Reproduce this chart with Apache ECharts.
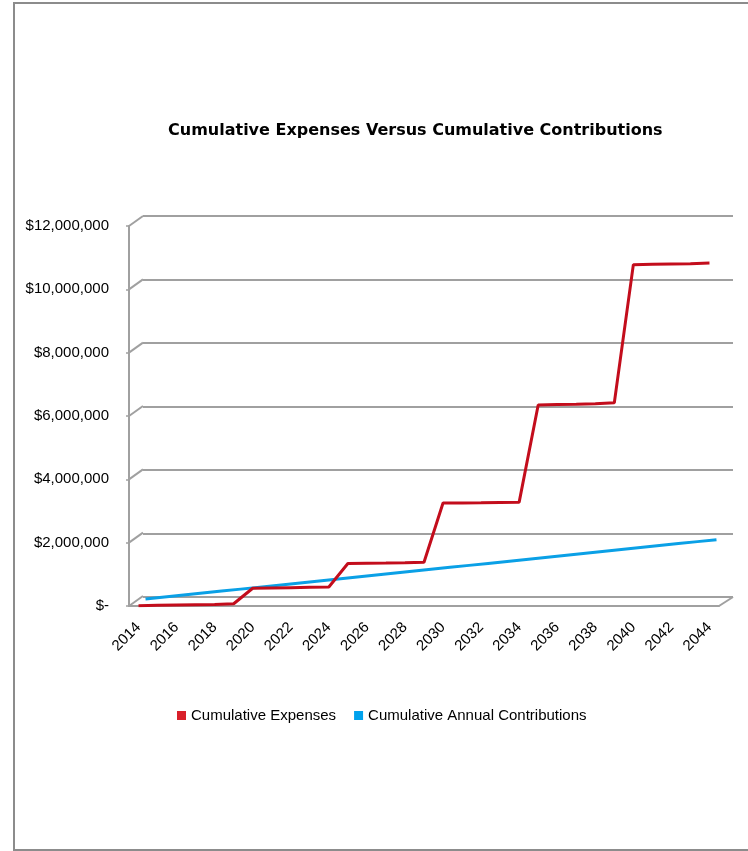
<!DOCTYPE html>
<html>
<head>
<meta charset="utf-8">
<script src="https://cdn.jsdelivr.net/npm/echarts@6/dist/echarts.min.js"></script>
<style>
  html, body { margin: 0; padding: 0; background: #fff; }
  #chartmain { width: 748px; height: 851px; }
</style>
</head>
<body>
<div id="chartmain"></div>
<script>
// data
var years = ['2014','2015','2016','2017','2018','2019','2020','2021','2022','2023','2024',
  '2025','2026','2027','2028','2029','2030','2031','2032','2033','2034',
  '2035','2036','2037','2038','2039','2040','2041','2042','2043','2044'];
var expenses = [10000, 20000, 30000, 40000, 50000, 70000,
  560000, 570000, 580000, 590000, 600000,
  1340000, 1350000, 1355000, 1365000, 1380000,
  3250000, 3255000, 3260000, 3270000, 3280000,
  6350000, 6360000, 6370000, 6390000, 6420000,
  10780000, 10790000, 10800000, 10810000, 10830000];
var contributions = [62500, 125000, 187500, 250000, 312500, 375000, 437500, 500000,
  562500, 625000, 687500, 750000, 812500, 875000, 937500, 1000000,
  1062500, 1125000, 1187500, 1250000, 1312500, 1375000, 1437500, 1500000,
  1562500, 1625000, 1687500, 1750000, 1812500, 1875000, 1937500];
var yTicks = [0, 2000000, 4000000, 6000000, 8000000, 10000000, 12000000];

// layout: front plane, back wall and the middle row of the 3d look
var front = {left: 129, top: 226, width: 590, height: 380};
var back = {dx: 14, dy: -10};
var mid = {dx: 7, dy: -5};
var gridColor = '#a0a0a0';

function money(v) {
  if (v === 0) return '$-';
  return '$' + v.toString().replace(/\B(?=(\d{3})+(?!\d))/g, ',');
}

var chart = echarts.init(document.getElementById('chartmain'));

function hiddenX(i) {
  return {gridIndex: i, type: 'category', data: years, show: false};
}
function hiddenY(i, showSplit) {
  return {
    gridIndex: i, type: 'value', min: 0, max: 12000000, interval: 2000000,
    axisLine: {show: false}, axisTick: {show: false}, axisLabel: {show: false},
    splitLine: {show: showSplit, lineStyle: {color: gridColor, width: 2}}
  };
}

chart.setOption({
  animation: false,
  title: {
    text: 'Cumulative Expenses Versus Cumulative Contributions',
    left: 163, top: 118,
    textStyle: {fontFamily: 'DejaVu Sans', fontWeight: 'bold', fontSize: 16, color: '#000'}
  },
  legend: {
    left: 172, top: 703,
    icon: 'rect', itemWidth: 9, itemHeight: 9, itemGap: 18,
    textStyle: {fontFamily: 'Liberation Sans', fontSize: 15, color: '#000'},
    data: ['Cumulative Expenses', 'Cumulative Annual Contributions']
  },
  grid: [
    {left: front.left, top: front.top, width: front.width, height: front.height},
    {left: front.left + back.dx, top: front.top + back.dy, width: front.width, height: front.height - back.dy - 9},
    {left: front.left + mid.dx, top: front.top + mid.dy, width: front.width, height: front.height}
  ],
  xAxis: [
    {
      gridIndex: 0, type: 'category', data: years, boundaryGap: true,
      axisLine: {lineStyle: {color: gridColor, width: 2}},
      axisTick: {interval: 0, length: 5, lineStyle: {color: gridColor, width: 1.5}},
      axisLabel: {interval: 1, rotate: 45, margin: 19, fontFamily: 'Liberation Sans', fontSize: 15, color: '#000'}
    },
    hiddenX(1),
    hiddenX(2)
  ],
  yAxis: [
    {
      gridIndex: 0, type: 'value', min: 0, max: 12000000, interval: 2000000,
      axisLine: {show: true, lineStyle: {color: gridColor, width: 2}},
      axisTick: {show: true, length: 3, lineStyle: {color: gridColor, width: 1.5}},
      axisLabel: {margin: 20, fontFamily: 'Liberation Sans', fontSize: 15, color: '#000', formatter: money},
      splitLine: {show: false}
    },
    hiddenY(1, true),
    hiddenY(2, false)
  ],
  series: [
    {
      name: 'Cumulative Annual Contributions', type: 'line',
      xAxisIndex: 2, yAxisIndex: 2, data: contributions,
      symbol: 'none', color: '#00a2ed',
      lineStyle: {color: '#0aa0e6', width: 3}, z: 3
    },
    {
      name: 'Cumulative Expenses', type: 'line',
      xAxisIndex: 0, yAxisIndex: 0, data: expenses,
      symbol: 'none', color: '#d9202a',
      lineStyle: {color: '#c30d1c', width: 3}, z: 4
    }
  ]
});

// diagonal joins from front ticks to the back wall, and the floor's right edge
var graphics = [{
  type: 'rect', shape: {x: 14, y: 3, width: 760, height: 847},
  style: {fill: 'none', stroke: '#8c8c8c', lineWidth: 2}, silent: true
}];
yTicks.forEach(function (v) {
  var y = chart.convertToPixel({yAxisIndex: 0}, v);
  graphics.push({
    type: 'line',
    shape: {x1: front.left, y1: y, x2: front.left + back.dx, y2: y + back.dy},
    style: {stroke: gridColor, lineWidth: 2}, silent: true
  });
});
var y0 = chart.convertToPixel({yAxisIndex: 0}, 0);
graphics.push({
  type: 'line',
  shape: {x1: front.left + front.width, y1: y0, x2: front.left + front.width + back.dx, y2: y0 + back.dy + 1},
  style: {stroke: gridColor, lineWidth: 2}, silent: true
});
chart.setOption({graphic: graphics});
</script>
</body>
</html>
